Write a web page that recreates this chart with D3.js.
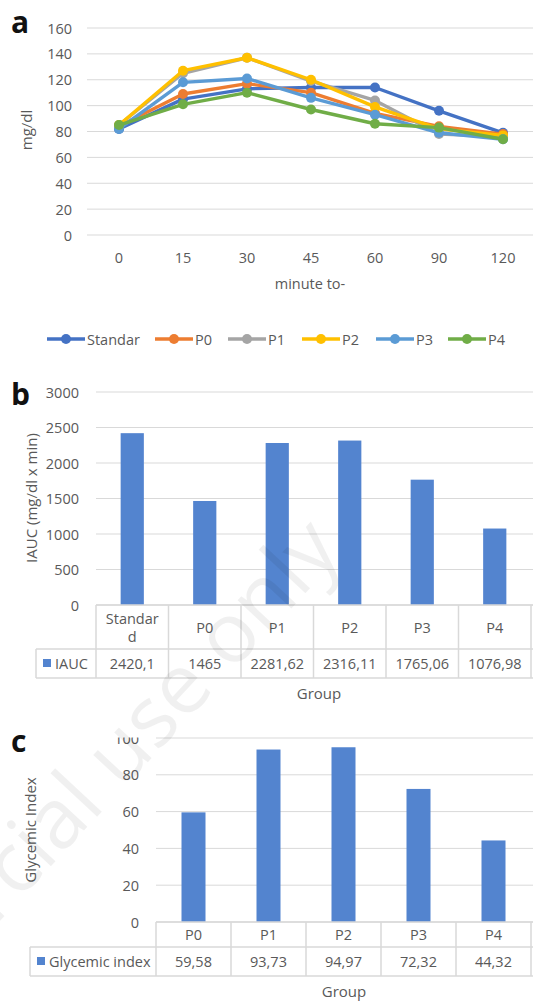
<!DOCTYPE html>
<html>
<head>
<meta charset="utf-8">
<script src="https://cdn.jsdelivr.net/npm/d3@7"></script>
<style>
  body { margin: 0; background: #fff; }
  text { font-family: "Open Sans", sans-serif; fill: #595959; }
</style>
</head>
<body>
<div id="chart"></div>
<script>
// ---- data ----
const minutes = ["0", "15", "30", "45", "60", "90", "120"];
const seriesNames = ["Standar", "P0", "P1", "P2", "P3", "P4"];
const standar = [82, 105, 113, 114, 114, 96, 79];
const p0 = [84, 109, 117, 110, 94, 84, 78];
const p1 = [85, 125, 137, 119, 104, 78, 76];
const p2 = [85, 127, 137, 120, 99, 82, 77];
const p3 = [82, 118, 121, 106, 93, 79, 74];
const p4 = [85, 101, 110, 97, 86, 83, 74];
const lineTicks = [0, 20, 40, 60, 80, 100, 120, 140, 160];

const iaucGroups = ["Standard", "P0", "P1", "P2", "P3", "P4"];
const iaucValues = [2420.1, 1465, 2281.62, 2316.11, 1765.06, 1076.98];
const iaucLabels = ["2420,1", "1465", "2281,62", "2316,11", "1765,06", "1076,98"];
const iaucTicks = [0, 500, 1000, 1500, 2000, 2500, 3000];

const giGroups = ["P0", "P1", "P2", "P3", "P4"];
const giValues = [59.58, 93.73, 94.97, 72.32, 44.32];
const giLabels = ["59,58", "93,73", "94,97", "72,32", "44,32"];
const giTicks = [0, 20, 40, 60, 80, 100];

const colors = ["#4472c4", "#ed7d31", "#a5a5a5", "#ffc000", "#5b9bd5", "#70ad47"];
const barColor = "#5384cf";
const gridColor = "#d9d9d9";

const width = 533, height = 1001;
const svg = d3.select("#chart").append("svg")
  .attr("width", width)
  .attr("height", height);

function panelLetter(t, x, y) {
  svg.append("text").attr("x", x).attr("y", y)
    .attr("font-family", "Liberation Sans, Arial, sans-serif")
    .attr("font-weight", "bold").attr("font-size", 30)
    .style("fill", "#111").text(t);
}

function yTitle(t, x, y) {
  svg.append("text")
    .attr("transform", `translate(${x},${y}) rotate(-90)`)
    .attr("text-anchor", "middle").attr("dominant-baseline", "central")
    .attr("font-size", 15).text(t);
}

// ---- chart a: line chart ----
const xA = d3.scalePoint().domain(minutes).range([87, 535]).padding(0.5);
const yA = d3.scaleLinear().domain([0, 160]).range([235, 28]);

const gA = svg.append("g");
gA.selectAll("line.grid").data(lineTicks).join("line")
  .attr("x1", 87).attr("x2", 535)
  .attr("y1", d => yA(d)).attr("y2", d => yA(d))
  .attr("stroke", gridColor).attr("stroke-width", 1);
gA.selectAll("text.yt").data(lineTicks).join("text")
  .attr("x", 72).attr("y", d => yA(d))
  .attr("text-anchor", "end").attr("dominant-baseline", "central")
  .attr("font-size", 14.5).text(d => d);
gA.selectAll("text.xt").data(minutes).join("text")
  .attr("x", d => xA(d)).attr("y", 257)
  .attr("text-anchor", "middle").attr("dominant-baseline", "central")
  .attr("font-size", 14.5).text(d => d);

const lineData = [standar, p0, p1, p2, p3, p4];
const line = d3.line().x((d, i) => xA(minutes[i])).y(d => yA(d));
lineData.forEach((vals, k) => {
  gA.append("path").attr("d", line(vals))
    .attr("fill", "none").attr("stroke", colors[k])
    .attr("stroke-width", 3.4).attr("stroke-linejoin", "round");
  gA.selectAll(null).data(vals).join("circle")
    .attr("cx", (d, i) => xA(minutes[i])).attr("cy", d => yA(d))
    .attr("r", 5).attr("fill", colors[k]);
});

svg.append("text").attr("x", 310).attr("y", 283)
  .attr("text-anchor", "middle").attr("dominant-baseline", "central")
  .attr("font-size", 14.5).text("minute to-");
yTitle("mg/dl", 26, 130);
panelLetter("a", 11, 33);

// legend
const legendX = [47, 155, 228, 302, 376, 448];
const leg = svg.append("g").selectAll("g").data(seriesNames).join("g")
  .attr("transform", (d, i) => `translate(${legendX[i]},339)`);
leg.append("line").attr("x1", 0).attr("x2", 38)
  .attr("stroke", (d, i) => colors[i]).attr("stroke-width", 3.4);
leg.append("circle").attr("cx", 19).attr("r", 5).attr("fill", (d, i) => colors[i]);
leg.append("text").attr("x", 40).attr("dominant-baseline", "central")
  .attr("font-size", 14.5).text(d => d);

// ---- bar chart with data table ----
function barTable(cfg) {
  const x = d3.scaleBand().domain(cfg.groups).range([cfg.left, cfg.right])
    .paddingInner(0.68).paddingOuter(0.34);
  const cell = d3.scaleBand().domain(cfg.groups).range([cfg.left, cfg.right]);
  const y = d3.scaleLinear().domain(cfg.domain).range([cfg.bottom, cfg.top]);
  const g = svg.append("g");

  g.selectAll("line.grid").data(cfg.ticks).join("line")
    .attr("x1", cfg.left).attr("x2", cfg.right + 2)
    .attr("y1", d => y(d)).attr("y2", d => y(d))
    .attr("stroke", gridColor).attr("stroke-width", 1);

  const tl = g.append("g");
  if (cfg.clipTop != null) {
    svg.append("clipPath").attr("id", cfg.id + "clip").append("rect")
      .attr("x", 0).attr("y", cfg.clipTop).attr("width", cfg.left).attr("height", 400);
    tl.attr("clip-path", `url(#${cfg.id}clip)`);
  }
  tl.selectAll("text").data(cfg.ticks).join("text")
    .attr("x", cfg.tickX).attr("y", d => y(d))
    .attr("text-anchor", "end").attr("dominant-baseline", "central")
    .attr("font-size", 14.5).text(d => d);

  g.selectAll("rect.bar").data(cfg.values).join("rect")
    .attr("x", (d, i) => x(cfg.groups[i])).attr("width", x.bandwidth())
    .attr("y", d => y(d)).attr("height", d => y(0) - y(d))
    .attr("fill", barColor);

  // table
  const rowMid = cfg.bottom + cfg.headH, rowEnd = rowMid + cfg.rowH;
  const tg = g.append("g").attr("stroke", gridColor).attr("stroke-width", 1.5);
  tg.append("line").attr("x1", cfg.left).attr("x2", cfg.right + 2)
    .attr("y1", cfg.bottom).attr("y2", cfg.bottom);
  tg.append("line").attr("x1", cfg.legLeft).attr("x2", cfg.right + 2)
    .attr("y1", rowMid).attr("y2", rowMid);
  tg.append("line").attr("x1", cfg.legLeft).attr("x2", cfg.right + 2)
    .attr("y1", rowEnd).attr("y2", rowEnd);
  tg.append("line").attr("x1", cfg.legLeft).attr("x2", cfg.legLeft)
    .attr("y1", rowMid).attr("y2", rowEnd);
  tg.selectAll("line.v").data(cfg.groups.concat(["end"])).join("line")
    .attr("x1", d => d === "end" ? cfg.right : cell(d))
    .attr("x2", d => d === "end" ? cfg.right : cell(d))
    .attr("y1", cfg.bottom).attr("y2", rowEnd);

  g.selectAll("text.cat").data(cfg.groups).join("text")
    .attr("x", d => cell(d) + cell.bandwidth() / 2)
    .attr("y", cfg.bottom + cfg.headH / 2)
    .attr("text-anchor", "middle").attr("dominant-baseline", "central")
    .attr("font-size", 14.5)
    .each(function (d) {
      const t = d3.select(this);
      if (cfg.wrap && d === "Standard") {
        t.append("tspan").attr("x", cell(d) + cell.bandwidth() / 2).attr("dy", "-0.65em").text("Standar");
        t.append("tspan").attr("x", cell(d) + cell.bandwidth() / 2).attr("dy", "1.3em").text("d");
      } else t.text(d);
    });
  g.selectAll("text.val").data(cfg.labels).join("text")
    .attr("x", (d, i) => cell(cfg.groups[i]) + cell.bandwidth() / 2)
    .attr("y", rowMid + cfg.rowH / 2)
    .attr("text-anchor", "middle").attr("dominant-baseline", "central")
    .attr("font-size", 14.5).text(d => d);

  g.append("rect").attr("x", cfg.legLeft + 7).attr("y", rowMid + cfg.rowH / 2 - 4.5)
    .attr("width", 8).attr("height", 8).attr("fill", barColor);
  g.append("text").attr("x", cfg.legLeft + 19).attr("y", rowMid + cfg.rowH / 2)
    .attr("dominant-baseline", "central").attr("font-size", 14.5).text(cfg.series);

  svg.append("text").attr("x", cfg.groupX).attr("y", rowEnd + 15)
    .attr("text-anchor", "middle").attr("dominant-baseline", "central")
    .attr("font-size", 15).text("Group");
}

barTable({
  id: "b", groups: iaucGroups, values: iaucValues, labels: iaucLabels, ticks: iaucTicks,
  domain: [0, 3000], left: 96, right: 531, top: 392, bottom: 605,
  headH: 44, rowH: 29, legLeft: 36, tickX: 79, series: "IAUC", wrap: true, groupX: 319
});
yTitle("IAUC (mg/dl x min)", 31, 498);
panelLetter("b", 11, 405);

barTable({
  id: "c", groups: giGroups, values: giValues, labels: giLabels, ticks: giTicks,
  domain: [0, 100], left: 156, right: 531, top: 738, bottom: 922,
  headH: 25, rowH: 29, legLeft: 30, tickX: 139, series: "Glycemic index", wrap: false,
  groupX: 344, clipTop: 737.5
});
yTitle("Glycemic Index", 30, 830);
panelLetter("c", 11, 752);

// faint watermark
svg.append("text")
  .attr("transform", "translate(320,530) rotate(-47)")
  .attr("text-anchor", "end").attr("dominant-baseline", "central")
  .attr("font-size", 84)
  .style("fill", "#000").style("fill-opacity", 0.06)
  .text("For non-commercial use only");
</script>
</body>
</html>
